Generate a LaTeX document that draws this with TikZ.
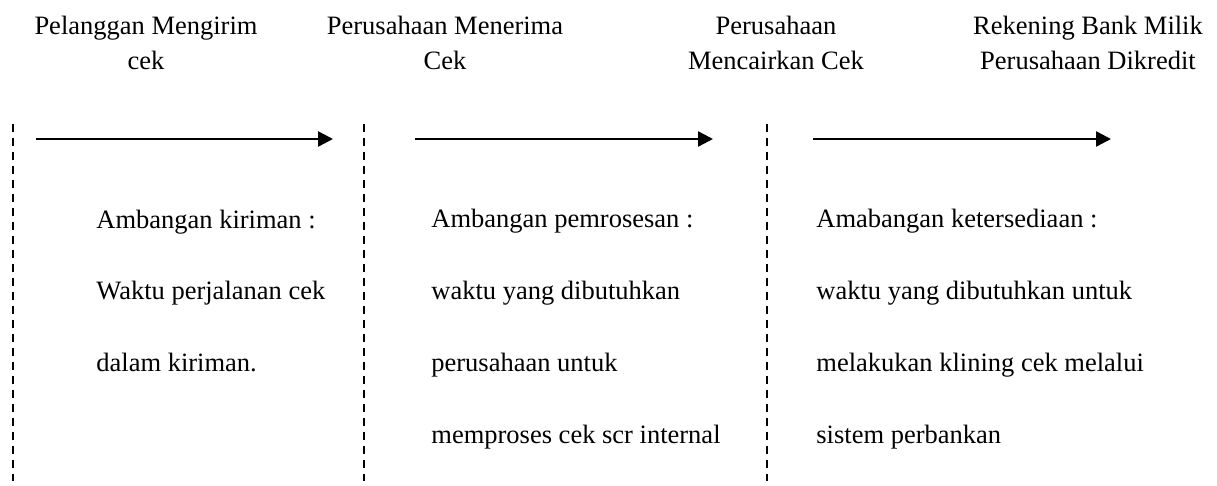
\documentclass[tikz,border=0pt]{standalone}
\usepackage{fontspec}
\setmainfont{Liberation Serif}
\usepackage{tikz}
\usetikzlibrary{arrows.meta}

\tikzset{
  headtext/.style={align=center, inner sep=0pt, font={\fontsize{13.25}{17.5}\selectfont}},
  bodytext/.style={align=left, inner sep=0pt, font={\fontsize{13.25}{36}\selectfont}},
  border/.style={line width=0.75pt, dash pattern={on 4pt off 3pt}},
  flow/.style={line width=1.25pt, -{Triangle[length=7.5pt,width=7.5pt]}}
}

\begin{document}
\begin{tikzpicture}[x=0.5pt,y=0.5pt,yscale=-1,xscale=1]
\useasboundingbox (0,0) rectangle (1217,486);

% Text Node (base = last line)
\node (pelanggan) [headtext, anchor=base] at (146,70) {Pelanggan Mengirim\\cek};
\node (menerima) [headtext, anchor=base] at (445,70) {Perusahaan Menerima\\Cek};
\node (mencairkan) [headtext, anchor=base] at (776,70) {Perusahaan\\Mencairkan Cek};
\node (rekening) [headtext, anchor=base] at (1088,70) {Rekening Bank Milik\\Perusahaan Dikredit};

%Straight Lines
\coordinate (batasA1) at (13,124);
\coordinate (batasA2) at (13,481);
\coordinate (batasB1) at (364,124);
\coordinate (batasB2) at (364,481);
\coordinate (batasC1) at (767,124);
\coordinate (batasC2) at (767,481);
\draw [border] (batasA1) -- (batasA2);
\draw [border] (batasB1) -- (batasB2);
\draw [border] (batasC1) -- (batasC2);

%Straight Lines
\coordinate (kirimA) at (36,139);
\coordinate (kirimB) at (333,139);
\coordinate (prosesA) at (415,139);
\coordinate (prosesB) at (713,139);
\coordinate (sediaA) at (813,139);
\coordinate (sediaB) at (1111,139);
\draw [flow] (kirimA) -- (kirimB);
\draw [flow] (prosesA) -- (prosesB);
\draw [flow] (sediaA) -- (sediaB);

% Text Node (base = last line)
\node (kiriman) [bodytext, anchor=base west] at (96,372) {Ambangan kiriman :\\Waktu perjalanan cek\\dalam kiriman.};
\node (pemrosesan) [bodytext, anchor=base west] at (431,444) {Ambangan pemrosesan :\\waktu yang dibutuhkan\\perusahaan untuk\\memproses cek scr internal};
\node (ketersediaan) [bodytext, anchor=base west] at (816,444) {Amabangan ketersediaan :\\waktu yang dibutuhkan untuk\\melakukan klining cek melalui\\sistem perbankan};

\end{tikzpicture}
\end{document}
